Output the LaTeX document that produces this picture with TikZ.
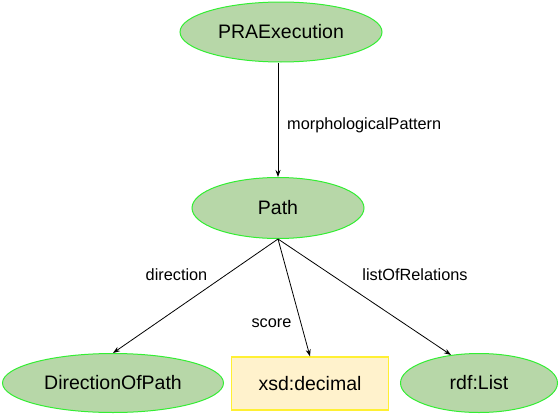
\documentclass[tikz,border=0pt]{standalone}
\usepackage{fontspec}
\setmainfont{Liberation Sans}
\usetikzlibrary{shapes.geometric,arrows.meta}
\definecolor{nodefill}{HTML}{B7D7A8}
\definecolor{nodeline}{HTML}{33EE33}
\definecolor{litfill}{HTML}{FFF2CC}
\definecolor{litline}{HTML}{FFF033}
\begin{document}
\begin{tikzpicture}[x=1pt,y=-1pt,
  cls/.style={ellipse,draw=nodeline,fill=nodefill,line width=1pt,inner sep=0pt,font=\fontsize{19.5}{22}\selectfont},
  lit/.style={rectangle,draw=litline,fill=litfill,line width=1.2pt,inner sep=0pt,minimum width=157pt,minimum height=53pt,font=\fontsize{19.5}{22}\selectfont},
  rel/.style={draw=black,line width=0.8pt,-{Stealth[length=7pt,width=5pt]}},
  lbl/.style={font=\fontsize{16.3}{18}\selectfont,inner sep=0pt}]
\useasboundingbox (0,0) rectangle (559,415);
\node[cls,minimum width=202pt,minimum height=60pt] (pra) at (281,32) {PRAExecution};
\node[cls,minimum width=172pt,minimum height=61pt] (path) at (278,208) {Path};
\node[cls,minimum width=221pt,minimum height=59pt] (dir) at (113,383) {DirectionOfPath};
\node[lit] (dec) at (310,383.5) {xsd:decimal};
\node[cls,minimum width=157pt,minimum height=59pt] (list) at (479,383) {rdf:List};
\draw[rel] (path.north |- pra.south) -- (path.north);
\draw[rel] (path.south) -- (dir.north);
\draw[rel] (path.south) -- (dec.north);
\draw[rel] (path.south) -- (list.135);
\node[lbl,anchor=west] (l1) at (287,125) {morphologicalPattern};
\node[lbl] (l2) at (176.5,275) {direction};
\node[lbl] (l3) at (271.5,323) {score};
\node[lbl] (l4) at (415,275) {listOfRelations};
\end{tikzpicture}
\end{document}
